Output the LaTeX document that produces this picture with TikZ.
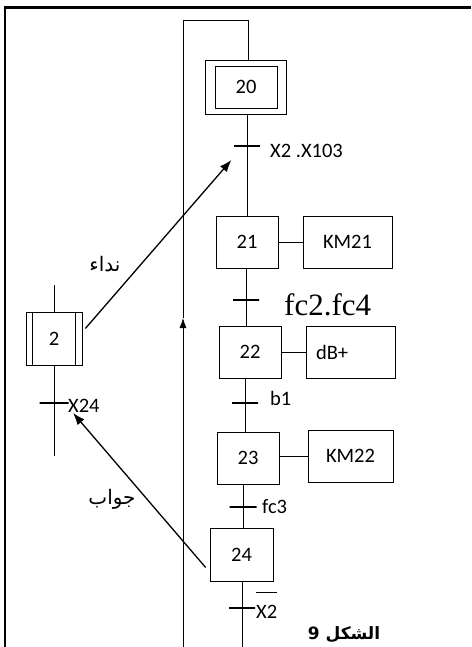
\documentclass[tikz,border=0pt]{standalone}
\usepackage{fontspec}
\setmainfont{Carlito}
\newfontfamily\timesfont{Liberation Serif}
\newfontfamily\arabicfont[Script=Arabic]{DejaVu Sans}
\TeXXeTstate=1
\usetikzlibrary{arrows.meta,positioning}

\tikzset{
  etape/.style={draw, line width=0.7pt, minimum width=62pt, minimum height=52pt,
    inner sep=0pt, font=\fontsize{20.5}{24}\selectfont},
  action/.style={etape, minimum width=89pt},
  trans/.style={draw, line width=1.2pt, minimum width=26pt, minimum height=0pt, inner sep=0pt},
  cond/.style={inner sep=0pt, anchor=base west, font=\fontsize{20.5}{24}\selectfont},
  arabe/.style={inner sep=0pt, font={\arabicfont\fontsize{20}{24}\selectfont}},
  liaison/.style={line width=0.8pt},
  fleche/.style={line width=1.3pt, -{Latex[length=12pt,width=9pt]}}
}

\begin{document}
\begin{tikzpicture}[x=1pt, y=-1pt]
\useasboundingbox (0,0) rectangle (471,647);
% cadre
\draw[line width=2.6pt] (5,647) -- (5,7.5) -- (471,7.5);
% etapes
\node[etape, minimum width=81pt, minimum height=54pt] (s20o) at (245.5,87) {};
\node[etape, minimum height=42pt] (s20) at (246,87) {20};
\node[etape] (s21) at (247,242) {21};
\node[action] (a21) at (347.5,242) {KM21};
\node[etape] (s22) at (250,352) {22};
\node[action, text width=69pt, align=left] (a22) at (350.5,352) {dB+};
\node[etape] (s23) at (248,458) {23};
\node[action, minimum width=85pt] (a23) at (350.5,456) {KM22};
\node[etape, minimum width=63pt, minimum height=53pt] (s24) at (241.5,554.5) {24};
\node[etape, minimum width=56pt, minimum height=53pt] (s2) at (54,338.5) {2};
\draw[line width=0.7pt] ([xshift=7pt]s2.north west) -- ([xshift=7pt]s2.south west)
  ([xshift=-7pt]s2.north east) -- ([xshift=-7pt]s2.south east);
% transitions
\node[trans] (t20) at (247,146) {};
\node[trans] (t21) at (246,300) {};
\node[trans] (t22) at (245,403) {};
\node[trans, minimum width=27pt] (t23) at (243,507) {};
\node[trans] (t24) at (242,608) {};
\node[trans, minimum width=29pt] (t2) at (54,403) {};
\node[cond] (c20) at (270,158) {X2 .X103};
\node[cond, font=\timesfont\fontsize{31}{36}\selectfont] (c21) at (284,315) {fc2.fc4};
\node[cond] (c22) at (270,405) {b1};
\node[cond] (c23) at (262,513) {fc3};
\node[cond] (c24) at (256,618) {X2};
\draw[line width=0.8pt] ([yshift=12pt]c24.north west) -- ([yshift=12pt]c24.north east);
\node[cond] (c2) at (68,412) {X24};
% liaisons
\coordinate (haut20) at (248,20);
\coordinate (haut) at (183,20);
\coordinate (fl) at (183,318);
\coordinate (bas) at (183,647);
\coordinate (fin) at (242,647);
\coordinate (e2) at (54,285);
\coordinate (f2) at (54,456);
\draw[liaison] (s20o.north -| haut20) -- (haut20) -- (haut) -- (fl);
\draw[liaison, -{Latex[length=10pt,width=7pt]}] (bas) -- (fl);
\draw[liaison] (s20o.south -| t20) -- (s21.north -| t20);
\draw[liaison] (s21.south -| t21) -- (s22.north -| t21);
\draw[liaison] (s22.south -| t22) -- (s23.north -| t22);
\draw[liaison] (s23.south -| t23) -- (s24.north -| t23);
\draw[liaison] (s24.south -| t24) -- (fin);
\draw[liaison] (e2) -- (s2);
\draw[liaison] (s2) -- (f2);
\draw[liaison] (s21) -- (a21);
\draw[liaison] (s22) -- (a22);
\draw[liaison] (a23.west) -- (a23.west -| s23.east);
% echanges
\draw[fleche] ([xshift=3pt,yshift=10pt]s2.east) -- ([xshift=-2pt,yshift=-14pt]t20.west);
\draw[fleche] ([xshift=-4pt,yshift=-13pt]s24.west) -- ([xshift=4pt,yshift=-10pt]t2.east);
\node[arabe] (n1) at (105,264) {\beginR نداء\endR};
\node[arabe] (n2) at (112,499) {\beginR جواب\endR};
\node[arabe, font={\arabicfont\bfseries\fontsize{17}{20}\selectfont}] (fig) at (344,635) {\beginR الشكل 9\endR};
\end{tikzpicture}
\end{document}
